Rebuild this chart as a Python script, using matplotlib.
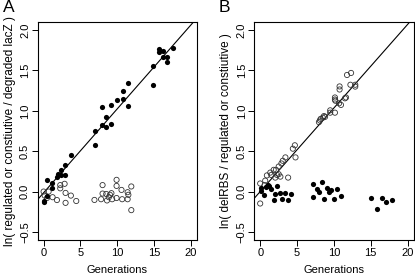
import matplotlib
matplotlib.use("Agg")
import matplotlib.pyplot as plt
import numpy as np

plt.rcParams['font.family'] = ['Liberation Sans', 'DejaVu Sans']

# Panel A data
a_fill_x = [17.5, 15.6, 15.6, 16.2, 16.2, 16.8, 16.8, 14.8, 14.8, 11.5, 10.8, 9.9, 10.8, 9.1,
            7.9, 11.5, 8.5, 7.9, 9.1, 8.5, 7.0, 7.0, 3.7, 2.9, 2.9, 2.3, 2.3, 1.8, 2.0, 1.1,
            1.1, 0.5, 0.5, 0.0, 0.0]
a_fill_y = [1.775, 1.76, 1.73, 1.74, 1.67, 1.67, 1.60, 1.55, 1.32, 1.34, 1.24, 1.13, 1.15, 1.07,
            1.05, 1.06, 0.92, 0.825, 0.84, 0.80, 0.75, 0.575, 0.45, 0.33, 0.21, 0.27, 0.21, 0.18,
            0.22, 0.11, 0.045, 0.14, -0.05, -0.115, -0.13]
a_open_x = [0.0, 0.15, 0.46, 0.68, 1.22, 1.81, 2.26, 2.26, 2.85, 2.98, 2.98, 3.7, 4.43, 6.9,
            8.0, 8.0, 7.8, 8.5, 8.6, 8.85, 9.0, 9.2, 9.3, 9.9, 9.9, 9.9, 10.57, 10.66, 11.4,
            11.4, 11.5, 11.9, 11.9]
a_open_y = [0.0, -0.05, -0.08, 0.0, -0.07, -0.105, 0.08, 0.04, 0.096, -0.017, -0.14, -0.05,
            -0.117, -0.104, 0.08, -0.025, -0.095, -0.03, -0.11, -0.07, -0.04, -0.02, -0.095,
            0.145, 0.07, -0.08, 0.02, -0.095, -0.008, -0.095, -0.04, 0.063, -0.23]
a_line = (-0.015, 0.104)

# Panel B data
b_fill_x = [0.07, 0.07, 0.57, 0.75, 1.05, 1.2, 1.46, 1.83, 2.05, 2.33, 2.7, 2.99, 3.36, 3.8,
            4.18, 7.1, 7.17, 7.76, 8.0, 8.4, 8.67, 9.08, 9.3, 9.67, 10.0, 10.45, 11.0, 15.07,
            15.9, 16.5, 17.1, 17.9]
b_fill_y = [0.04, 0.01, -0.044, 0.06, 0.077, 0.07, 0.027, -0.1, -0.036, 0.073, -0.023, -0.093,
            -0.015, -0.11, -0.031, -0.073, 0.094, 0.027, -0.002, 0.115, -0.09, 0.048, -0.002,
            0.019, -0.09, 0.031, -0.052, -0.085, -0.215, -0.085, -0.127, -0.106]
b_open_x = [11.78, 12.33, 12.24, 12.9, 12.9, 10.77, 10.77, 10.14, 10.14, 10.2, 10.7, 10.96,
            11.64, 11.5, 9.5, 9.5, 10.14, 8.65, 8.8, 8.5, 8.2, 8.1, 7.97,
            4.7, 4.43, 4.79, 3.42, 3.06, 2.88, 2.51, 2.14, 1.83, 1.37, 1.5, 0.91, 0.68,
            2.28, 2.05, 2.51, 3.79, 2.74, 0.0, 0.0, 0.59]
b_open_y = [1.444, 1.469, 1.323, 1.323, 1.30, 1.302, 1.264, 1.165, 1.14, 1.125, 1.093, 1.073,
            1.165, 1.155, 1.006, 0.977, 0.977, 0.935, 0.925, 0.915, 0.9, 0.88, 0.86,
            0.573, 0.531, 0.423, 0.423, 0.381, 0.348, 0.31, 0.269, 0.269, 0.235, 0.206, 0.2,
            0.135, 0.206, 0.173, 0.215, 0.173, 0.185, 0.1, -0.148, 0.08]
b_line = (0.0, 0.1035)

x_ticks = [0, 5, 10, 15, 20]
y_ticks = [-0.5, 0.0, 0.5, 1.0, 1.5, 2.0]
y_tick_labels = ["\u22120.5", "0.0", "0.5", "1.0", "1.5", "2.0"]

W, H = 415, 279
fig = plt.figure(figsize=(W / 100, H / 100), dpi=100)

panels = [
    dict(left=37.7, label="A", labx=9, ylabel="ln( regulated or constiutive / degraded lacZ )",
         fx=a_fill_x, fy=a_fill_y, ox=a_open_x, oy=a_open_y, line=a_line),
    dict(left=254.3, label="B", labx=224, ylabel="ln( delRBS / regulated or constiutive )",
         fx=b_fill_x, fy=b_fill_y, ox=b_open_x, oy=b_open_y, line=b_line),
]

for p in panels:
    ax = fig.add_axes([p['left'] / W, (H - 240) / H, 159.2 / W, 218 / H])
    ax.set_xlim(-0.8, 20.8)
    ax.set_ylim(-0.6, 2.1)
    xx = np.array([-2.0, 23.0])
    ax.plot(xx, p['line'][0] + p['line'][1] * xx, color='black', lw=0.8, zorder=1)
    ax.scatter(p['ox'], p['oy'], s=14, facecolors='none', edgecolors='#333333',
               linewidths=0.6, zorder=2)
    ax.scatter(p['fx'], p['fy'], s=14, color='black', linewidths=0, zorder=3)
    ax.set_xticks(x_ticks)
    ax.set_yticks(y_ticks)
    ax.set_yticklabels(y_tick_labels, rotation=90, va='center')
    ax.tick_params(direction='out', length=4, width=0.7, labelsize=8, pad=1.5)
    for s in ax.spines.values():
        s.set_linewidth(0.8)
    ax.set_xlabel("Generations", fontsize=8, labelpad=5)
    ax.set_ylabel(p['ylabel'], fontsize=8.5, labelpad=3)
    fig.text(p['labx'] / W, 1 - 8 / H, p['label'], fontsize=12.5, ha='center', va='center')

fig.savefig("out.png", dpi=100)
